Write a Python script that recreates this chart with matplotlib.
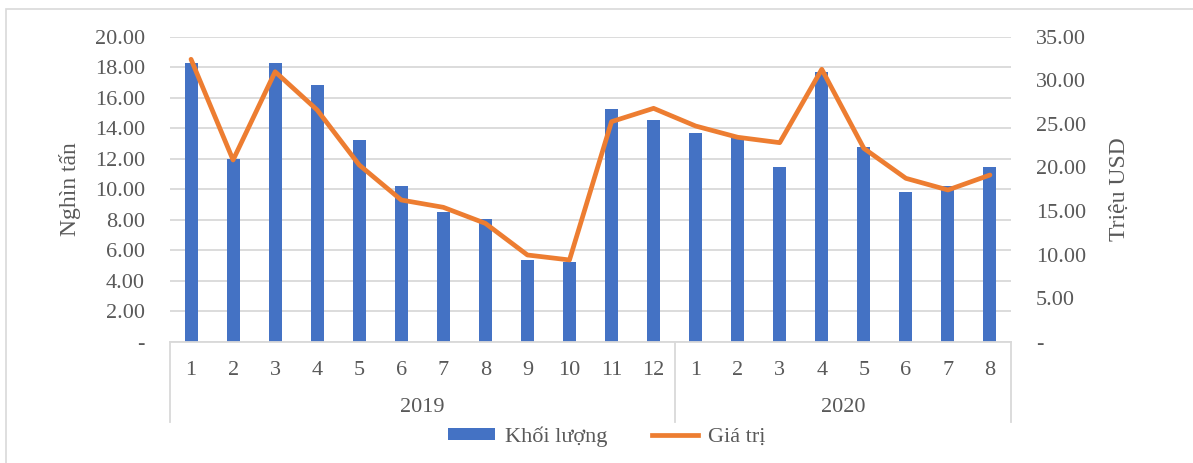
import matplotlib
matplotlib.use("Agg")
import matplotlib.pyplot as plt
import matplotlib.transforms as mtransforms
from matplotlib.patches import Rectangle, Patch
from matplotlib.lines import Line2D
from matplotlib.ticker import FuncFormatter, MultipleLocator

plt.rcParams['font.family'] = ['Liberation Serif', 'DejaVu Serif']

months = ['1', '2', '3', '4', '5', '6', '7', '8', '9', '10', '11', '12',
          '1', '2', '3', '4', '5', '6', '7', '8']
years = ['2019', '2020']
year_counts = [12, 8]
volume = [18.26, 12.0, 18.30, 16.83, 13.23, 10.21, 8.53, 8.02, 5.36, 5.25,
          15.24, 14.54, 13.69, 13.44, 11.48, 17.70, 12.79, 9.82, 10.21, 11.44]
value = [32.41, 20.85, 30.98, 26.59, 20.28, 16.26, 15.42, 13.58, 9.95, 9.38,
         25.25, 26.78, 24.75, 23.46, 22.84, 31.26, 22.19, 18.75, 17.41, 19.13]

BLUE = '#4472C4'
ORANGE = '#ED7D31'
GRID = '#D9D9D9'
TXT = '#595959'
FS = 16

W, H = 1193, 463
fig = plt.figure(figsize=(W / 100, H / 100), dpi=100)
left, right, top, bottom = 170, 1011, 36.7, 341.7
ax = fig.add_axes([left / W, 1 - bottom / H, (right - left) / W, (bottom - top) / H])

# outer frame
fig.patches.append(Rectangle((6 / W, -0.1), 1.2, 1 - 9 / H + 0.1, transform=fig.transFigure,
                             fill=False, edgecolor=GRID, linewidth=1.2))

x = list(range(len(months)))
ax.bar(x, volume, width=0.31, color=BLUE, zorder=2)
ax.set_xlim(-0.5, len(months) - 0.5)
ax.set_ylim(0, 20)
ax.yaxis.set_major_locator(MultipleLocator(2))
fmt = FuncFormatter(lambda v, p: '-' if abs(v) < 1e-9 else f'{v:.2f}')
ax.yaxis.set_major_formatter(fmt)
ax.grid(axis='y', color=GRID, linewidth=1.3, zorder=0)
ax.set_axisbelow(True)
for s in ['top', 'right', 'left']:
    ax.spines[s].set_visible(False)
ax.spines['bottom'].set_color(GRID)
ax.spines['bottom'].set_linewidth(1.3)
ax.tick_params(axis='y', length=0, pad=18, labelsize=FS, labelcolor=TXT)
ax.set_xticks(x, labels=months)
ax.tick_params(axis='x', length=0, pad=14, labelsize=FS, labelcolor=TXT)
ax.set_ylabel('Nghìn tấn', fontsize=FS + 1, color=TXT, labelpad=10)

ax2 = ax.twinx()
ax2.plot(x, value, color=ORANGE, linewidth=3.4, solid_joinstyle='round', solid_capstyle='round', zorder=3)
ax2.set_ylim(0, 35)
ax2.yaxis.set_major_locator(MultipleLocator(5))
ax2.yaxis.set_major_formatter(fmt)
for s in ['top', 'right', 'left', 'bottom']:
    ax2.spines[s].set_visible(False)
ax2.tick_params(axis='y', length=0, pad=18, labelsize=FS, labelcolor=TXT)
ax2.set_ylabel('Triệu USD', fontsize=FS + 1, color=TXT, labelpad=16)

# multi-level category axis
trans = mtransforms.blended_transform_factory(ax.transData, ax.transAxes)
line_bottom = -(422 - bottom) / (bottom - top)
year_y = -(408 - bottom) / (bottom - top)
bounds = [-0.5]
for c in year_counts:
    bounds.append(bounds[-1] + c)
for b in bounds:
    ax.plot([b, b], [0, line_bottom], transform=trans, color=GRID, linewidth=1.3, clip_on=False)
for i, yr in enumerate(years):
    ax.text((bounds[i] + bounds[i + 1]) / 2, year_y, yr, transform=trans, ha='center', va='center',
            fontsize=FS, color=TXT)

handles = [Patch(facecolor=BLUE, edgecolor='none', label='Khối lượng'),
           Line2D([0], [0], color=ORANGE, linewidth=3.4, label='Giá trị')]
fig.legend(handles=handles, loc='center', bbox_to_anchor=(607 / W, 1 - 437 / H), ncol=2,
           frameon=False, fontsize=FS, labelcolor=TXT, handlelength=2.1, handleheight=0.45,
           columnspacing=2.0, handletextpad=0.45)

fig.savefig('out.png', dpi=100)
